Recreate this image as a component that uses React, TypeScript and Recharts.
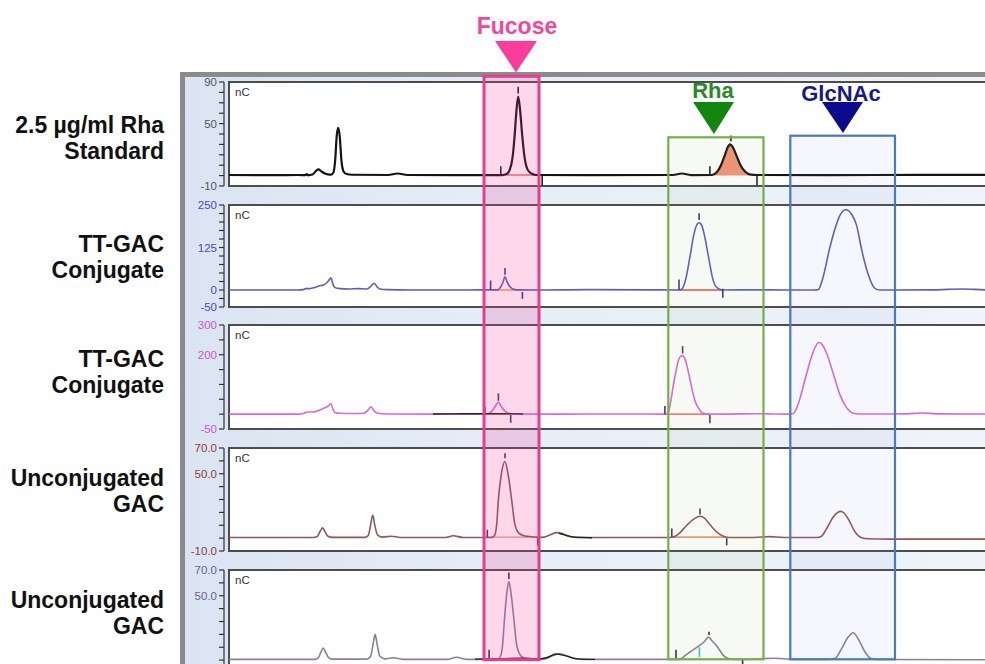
import React from 'react';
import { ComposedChart, Line, Area, XAxis, YAxis, ReferenceArea, ReferenceLine } from 'recharts';

type Pt = [number, number];
type Mark = [number, number, number, string?];
type Base = [number, number, number, string];

// Shared retention-time axis (min)
const TIME_DOMAIN: [number, number] = [-1 / 6, 26];

const SAMPLE_LABELS: string[][] = [
  ['2.5 µg/ml Rha', 'Standard'],
  ['TT-GAC', 'Conjugate'],
  ['TT-GAC', 'Conjugate'],
  ['Unconjugated', 'GAC'],
  ['Unconjugated', 'GAC'],
];

const PEAK_LABELS = ['Fucose', 'Rha', 'GlcNAc'];

const Y_DOMAINS: [number, number][] = [[-10, 90], [-50, 250], [-50, 300], [-10, 70], [-10, 70]];
const Y_TICKS: number[][] = [
  [-10, 0, 10, 20, 30, 40, 50, 60, 70, 80, 90],
  [-50, -25, 0, 25, 50, 75, 100, 125, 150, 175, 200, 225, 250],
  [-50, 0, 50, 100, 150, 200, 250, 300],
  [-10, 0, 10, 20, 30, 40, 50, 60, 70],
  [0, 10, 20, 30, 40, 50, 60, 70],
];
const Y_MAJOR: number[][] = [[90, 50, -10], [250, 125, 0, -50], [300, 200, -50], [70, 50, -10], [70, 50]];
const Y_DECIMALS = [0, 0, 0, 1, 1];

// Traces: [time, nC]
const TRACE_RHA_STD: Pt[] = [
  [0, 0.6], [1.5, 0.5], [2.3, 0.6], [2.55, 0.5], [2.59, 1.5], [2.63, 0.3], [2.78, 1], [2.9, 4.5], [2.98, 6], [3.08, 4],
  [3.2, 2], [3.3, 1.2], [3.4, 0.9], [3.48, 3], [3.54, 15], [3.59, 38], [3.64, 46], [3.69, 38], [3.75, 14], [3.82, 4],
  [3.92, 1.5], [4.1, 0.8], [5.3, 0.6], [5.62, 2], [5.95, 0.6], [7.5, 0.5], [9.1, 0.5], [9.25, 1.5], [9.35, 5], [9.45, 17],
  [9.52, 38], [9.58, 62], [9.64, 76], [9.7, 64], [9.77, 40], [9.85, 18], [9.95, 6], [10.08, 2], [10.25, 0.6], [12, 0.5],
  [14.8, 0.6], [15.09, 2], [15.4, 0.5], [16.1, 0.6], [16.25, 3], [16.4, 10], [16.52, 19], [16.62, 27], [16.7, 30],
  [16.8, 27], [16.92, 19], [17.05, 10], [17.2, 4], [17.4, 1], [17.6, 0.6], [20, 0.5], [23, 0.7], [26, 0.6],
];
const TRACE_TT_GAC_1: Pt[] = [
  [0, 0], [2.3, 0], [2.48, 1], [2.55, 4], [2.7, 4], [2.85, 7], [3.0, 12], [3.15, 15], [3.27, 22], [3.36, 32], [3.4, 36],
  [3.46, 18], [3.53, 7], [3.7, 4], [4.0, 3], [4.3, 4], [4.6, 3], [4.72, 10], [4.84, 20], [4.93, 10], [5.03, 3], [5.3, 1],
  [6, 0], [8.0, 0], [8.7, 0.5], [8.95, 0.5], [9.05, 8], [9.13, 22], [9.2, 39], [9.27, 24], [9.36, 10], [9.46, 3],
  [9.6, 0.5], [10.5, 0], [12, 1], [14, 0.5], [15.0, 0], [15.1, 3], [15.22, 30], [15.36, 95], [15.5, 165], [15.6, 193],
  [15.67, 198], [15.75, 192], [15.85, 160], [15.98, 99], [16.12, 35], [16.25, 8], [16.4, 1], [16.5, 0], [17.5, 0.5],
  [18.5, 0], [19.5, 0], [19.64, 1], [19.81, 40], [20.01, 118], [20.2, 180], [20.37, 220], [20.56, 236], [20.76, 222],
  [20.92, 190], [21.09, 118], [21.31, 45], [21.53, 5], [21.7, 0], [22, 0], [23.5, 0.5], [24.43, 3], [25.2, 0.5], [26, 0],
];
const TRACE_TT_GAC_2: Pt[] = [
  [0, 0], [2.35, 0], [2.5, 3], [2.6, 7], [2.8, 7], [2.95, 11], [3.14, 19], [3.3, 27], [3.4, 36], [3.46, 18], [3.53, 5],
  [3.7, 3], [4.2, 2], [4.5, 3], [4.62, 12], [4.73, 25], [4.83, 12], [4.95, 3], [5.3, 0.5], [7, 0], [8.6, 0.5], [8.72, 6],
  [8.85, 22], [8.98, 40], [9.08, 25], [9.2, 10], [9.32, 3], [9.45, 0.5], [11, 0], [13, 0.5], [14.55, 0], [14.64, 5],
  [14.72, 40], [14.81, 97], [14.9, 145], [14.98, 181], [15.06, 195], [15.12, 197], [15.2, 185], [15.31, 143], [15.4, 100],
  [15.48, 64], [15.56, 38], [15.64, 22], [15.72, 10], [15.81, 3], [15.95, 0.5], [16.5, 0], [17.5, 1.5], [18.2, 0.5],
  [18.6, 0], [18.81, 2], [18.98, 36], [19.2, 116], [19.42, 194], [19.55, 228], [19.68, 241], [19.8, 230], [19.92, 205],
  [20.14, 137], [20.37, 64], [20.59, 21], [20.81, 3], [21.0, 0.5], [22, 0.5], [22.6, 1], [23.1, 4], [23.6, 1], [26, 0],
];
const BLANK_TT_GAC_2: Pt[] = [[6.8, 0.3], [7.5, 0.8], [8.3, 1.5], [8.9, 1.2], [9.5, 1], [9.8, 0.3]];
const TRACE_UNCONJ_1: Pt[] = [
  [0, 0.5], [2.8, 0.5], [2.95, 1.5], [3.03, 5], [3.12, 8], [3.2, 5], [3.3, 1.5], [3.45, 0.6], [4.55, 0.6], [4.64, 2],
  [4.72, 10], [4.79, 18], [4.86, 10], [4.95, 2.5], [5.1, 0.8], [5.42, 1.5], [5.7, 0.5], [7.2, 0.5], [7.48, 1.8], [7.8, 0.5],
  [8.75, 0.5], [8.85, 2], [8.92, 10], [8.98, 30], [9.08, 50], [9.2, 59.5], [9.3, 50], [9.42, 30], [9.52, 12], [9.62, 5],
  [9.8, 2], [10.0, 1.2], [10.3, 0.6], [10.5, 0.8], [10.7, 2.5], [10.92, 4.3], [11.1, 3.5], [11.3, 1.5], [11.6, 0.6],
  [12, 0.5], [14.7, 0.5], [14.81, 0.8], [15.0, 3.5], [15.26, 10], [15.48, 14.6], [15.7, 17], [15.85, 15.5], [15.98, 12],
  [16.12, 8], [16.26, 4.7], [16.48, 1.5], [16.7, 0.5], [17.5, 0.5], [18.0, 1.2], [18.5, 0.5], [19.6, 0.5], [19.75, 1.5],
  [19.92, 7.4], [20.14, 16.4], [20.28, 19.8], [20.39, 20.8], [20.5, 19.5], [20.64, 15], [20.87, 4.8], [21.09, 0.3],
  [21.3, -0.5], [22, -0.8], [26, -0.8],
];
const BLANK_UNCONJ_1: Pt[] = [[11.0, 3.8], [11.2, 2.5], [11.5, 0.8], [12.1, 0.3]];
const TRACE_UNCONJ_2: Pt[] = [
  [0, 0.6], [2.85, 0.6], [2.98, 2], [3.06, 6], [3.14, 9.4], [3.22, 6], [3.32, 2], [3.45, 0.8], [4.6, 0.8], [4.72, 3],
  [4.8, 12], [4.87, 20], [4.94, 12], [5.03, 3], [5.2, 1], [5.48, 1.8], [5.8, 0.6], [7.3, 0.6], [7.59, 2.2], [7.9, 0.6],
  [8.95, 0.6], [9.05, 3], [9.12, 12], [9.18, 31], [9.26, 52], [9.33, 61], [9.4, 52], [9.5, 31], [9.58, 13], [9.68, 5],
  [9.8, 2], [10.0, 1], [10.3, 0.6], [10.5, 0.8], [10.75, 3], [11.03, 5], [11.3, 3], [11.6, 1], [12, 0.6], [14.8, 0.6],
  [15.03, 0.8], [15.2, 3.5], [15.37, 6.3], [15.64, 10.7], [15.85, 14.5], [15.98, 17.9], [16.12, 14.5], [16.26, 11],
  [16.48, 3.7], [16.7, 0.8], [17.2, 0.6], [18.2, 1.5], [18.8, 0.6], [20.0, 0.6], [20.2, 1.2], [20.42, 8.9], [20.64, 17.9],
  [20.81, 21.3], [21.0, 15.3], [21.2, 6.3], [21.42, 1], [21.7, 0.5], [26, 0.3],
];
const BLANK_UNCONJ_2: Pt[] = [
  [8.2, 0.8], [8.9, 1.2], [9.0, 1], [9.7, 1.5], [10.3, 1], [10.6, 2], [10.9, 4.8], [11.2, 3.5], [11.6, 1], [12.2, 0.6],
];

// Peak markers: [time, from, to, colour?]
const MARKS_RHA_STD: Mark[] = [[9.06, 1, 9], [9.64, 79, 85.5], [10.44, 0, -9.5], [16.03, 0, 9], [16.73, 33, 38.5], [17.6, 0, -9.5]];
const MARKS_TT_GAC_1: Mark[] = [[8.72, 0, 28], [9.2, 45, 65], [9.78, -6, -26], [15.0, 0, 31], [15.67, 206, 226], [16.46, 4, -23]];
const MARKS_TT_GAC_2: Mark[] = [[8.53, 0, 24], [8.98, 45, 70], [9.39, -3, -29], [14.53, 0, 27], [15.12, 204, 229], [16.03, -3, -31]];
const MARKS_UNCONJ_1: Mark[] = [[8.61, 0.8, 6.5], [9.2, 62, 66], [10.29, 0, -5.7], [14.76, 0.8, 7.4], [15.7, 18.4, 23], [16.59, 0, -5.6]];
const MARKS_UNCONJ_2: Mark[] = [[8.67, 1, 8], [9.33, 63, 68], [14.9, 1.5, 8], [15.68, 2.4, 10, '#3cc6d6'], [16.0, 19.5, 22], [17.12, 0.6, -4]];

// Integration baselines: [start, end, level, colour]
const BASE_RHA_STD: Base[] = [[9.06, 10.44, 0.6, '#d9786a']];
const BASE_TT_GAC_1: Base[] = [[8.72, 9.78, 0, '#f0a040'], [15.0, 16.46, 0, '#e84a40']];
const BASE_TT_GAC_2: Base[] = [[8.53, 9.39, 0, '#f0a040'], [14.53, 16.03, 0, '#e84a40']];
const BASE_UNCONJ_1: Base[] = [[8.61, 10.29, 0.8, '#e8a070'], [14.76, 16.59, 0.8, '#e07040']];
const BASE_UNCONJ_2: Base[] = [[14.9, 17.12, 0.6, '#e07a30']];

const RHA_STD_FILL_RANGE: [number, number] = [16.1, 17.6];

const TRACES = [TRACE_RHA_STD, TRACE_TT_GAC_1, TRACE_TT_GAC_2, TRACE_UNCONJ_1, TRACE_UNCONJ_2];
const BLANKS: (Pt[] | null)[] = [null, null, BLANK_TT_GAC_2, BLANK_UNCONJ_1, BLANK_UNCONJ_2];
const MARKS = [MARKS_RHA_STD, MARKS_TT_GAC_1, MARKS_TT_GAC_2, MARKS_UNCONJ_1, MARKS_UNCONJ_2];
const BASES = [BASE_RHA_STD, BASE_TT_GAC_1, BASE_TT_GAC_2, BASE_UNCONJ_1, BASE_UNCONJ_2];

// Styling / layout
const LINE_COLORS = ['#141414', '#5e5eb8', '#d86ad6', '#8f5757', '#8a7f9c'];
const LINE_WIDTHS = [2.2, 1.6, 1.6, 1.6, 1.6];
const TICK_COLORS = ['#555555', '#4b4bb0', '#cc55cc', '#8c4040', '#6e5c94'];
const MARK_COLORS = ['#222222', '#3a3a8a', '#4a3a6a', '#3a3a6a', '#333333'];
const PLOT_TOPS = [82, 204.5, 325, 447.5, 569.5];
const PLOT_HEIGHTS = [104, 102, 104, 103, 103];
const LABEL_TOPS = [112, 231, 346, 465, 587];
const FONT = "Arial, 'Liberation Sans', sans-serif";

function Panel({ i }: { i: number }) {
  const dom = Y_DOMAINS[i];
  const fr = i === 0 ? RHA_STD_FILL_RANGE : null;
  const data = TRACES[i].map(([t, v]) => ({ t, v, f: fr && t >= fr[0] && t <= fr[1] ? v : null }));
  const blank = BLANKS[i] ? (BLANKS[i] as Pt[]).map(([t, v]) => ({ t, v })) : null;
  const renderTick = (p: any) => {
    const { x, y, payload } = p;
    if (!Y_MAJOR[i].includes(payload.value)) return <g />;
    return (
      <text x={x} y={y} dy={4} textAnchor="end" fontSize={11.5} fill={TICK_COLORS[i]} fontFamily={FONT}>
        {Number(payload.value).toFixed(Y_DECIMALS[i])}
      </text>
    );
  };
  return (
    <div style={{ position: 'absolute', left: 170, top: PLOT_TOPS[i] - 8 }}>
      <ComposedChart width={839} height={PLOT_HEIGHTS[i] + 16} data={data} margin={{ top: 8, right: 0, bottom: 8, left: 0 }}>
        <XAxis type="number" dataKey="t" domain={TIME_DOMAIN} hide allowDataOverflow />
        <YAxis
          type="number"
          domain={dom}
          ticks={Y_TICKS[i]}
          interval={0}
          width={54}
          allowDataOverflow
          tickSize={5}
          tickMargin={2}
          axisLine={{ stroke: '#333', strokeWidth: 1.2 }}
          tickLine={{ stroke: '#333', strokeWidth: 1.2 }}
          tick={renderTick}
        />
        <ReferenceArea
          x1={0}
          x2={TIME_DOMAIN[1]}
          y1={dom[0]}
          y2={dom[1]}
          fill="#ffffff"
          fillOpacity={1}
          stroke="#4d4d4d"
          strokeWidth={2}
          ifOverflow="visible"
          label={{ value: 'nC', position: 'insideTopLeft', offset: 6, fontSize: 11.5, fill: '#333', fontFamily: FONT }}
        />
        {fr && (
          <Area type="monotone" dataKey="f" baseValue={0} fill="#f3927a" fillOpacity={1} stroke="none" isAnimationActive={false} connectNulls={false} />
        )}
        {BASES[i].map((b, k) => (
          <ReferenceLine key={'b' + k} segment={[{ x: b[0], y: b[2] }, { x: b[1], y: b[2] }]} stroke={b[3]} strokeWidth={1.4} ifOverflow="visible" />
        ))}
        <Line type="monotone" dataKey="v" stroke={LINE_COLORS[i]} strokeWidth={LINE_WIDTHS[i]} dot={false} activeDot={false} isAnimationActive={false} />
        {blank && (
          <Line data={blank} type="monotone" dataKey="v" stroke="#222" strokeWidth={1.4} dot={false} activeDot={false} isAnimationActive={false} />
        )}
        {MARKS[i].map((m, k) => (
          <ReferenceLine key={'m' + k} segment={[{ x: m[0], y: m[1] }, { x: m[0], y: m[2] }]} stroke={m[3] || MARK_COLORS[i]} strokeWidth={1.6} ifOverflow="visible" />
        ))}
      </ComposedChart>
    </div>
  );
}

export default function App() {
  return (
    <div style={{ position: 'fixed', left: 0, top: 0, width: 985, height: 664, overflow: 'hidden', background: '#fff', fontFamily: FONT }}>
      <div
        style={{
          position: 'absolute',
          left: 180,
          top: 72,
          width: 830,
          height: 610,
          borderTop: '5px solid #8b8b8b',
          borderLeft: '5px solid #8b8b8b',
          background: 'linear-gradient(90deg, #dae4f2 0%, #e6edf7 40%, #f0f4fa 100%)',
        }}
      />
      {SAMPLE_LABELS.map((lines, i) => (
        <div
          key={i}
          style={{
            position: 'absolute',
            left: 0,
            width: 164,
            top: LABEL_TOPS[i],
            textAlign: 'right',
            fontWeight: 'bold',
            fontSize: 23,
            lineHeight: '26px',
            color: '#111',
            whiteSpace: 'nowrap',
          }}
        >
          {lines.map((l, k) => (
            <div key={k}>{l}</div>
          ))}
        </div>
      ))}
      {TRACES.map((_, i) => (
        <Panel key={i} i={i} />
      ))}
      <svg width={985} height={664} style={{ position: 'absolute', left: 0, top: 0, pointerEvents: 'none' }}>
        <rect x={484} y={76.3} width={55} height={583.4} fill="rgba(240,60,150,0.2)" stroke="#e43f8f" strokeWidth={3} />
        <rect x={668.3} y={137.3} width={95.2} height={522} fill="rgba(140,190,100,0.07)" stroke="#78ad4a" strokeWidth={2.2} />
        <rect x={790.3} y={135.7} width={104.7} height={523.6} fill="rgba(110,140,210,0.07)" stroke="#4a78c2" strokeWidth={2.2} />
        <polygon points="495,41 537,41 516,72.5" fill="#f83e9a" />
        <polygon points="693,102 734,102 714,134" fill="#10860f" />
        <polygon points="822,102 863,102 843,133" fill="#0b0b90" />
        <text x={517} y={34} textAnchor="middle" fontSize={23} fontWeight="bold" fill="#f0489a" fontFamily={FONT}>{PEAK_LABELS[0]}</text>
        <text x={713} y={98} textAnchor="middle" fontSize={22} fontWeight="bold" fill="#2a8a2a" fontFamily={FONT}>{PEAK_LABELS[1]}</text>
        <text x={841} y={101} textAnchor="middle" fontSize={22} fontWeight="bold" fill="#18188a" fontFamily={FONT}>{PEAK_LABELS[2]}</text>
      </svg>
    </div>
  );
}
